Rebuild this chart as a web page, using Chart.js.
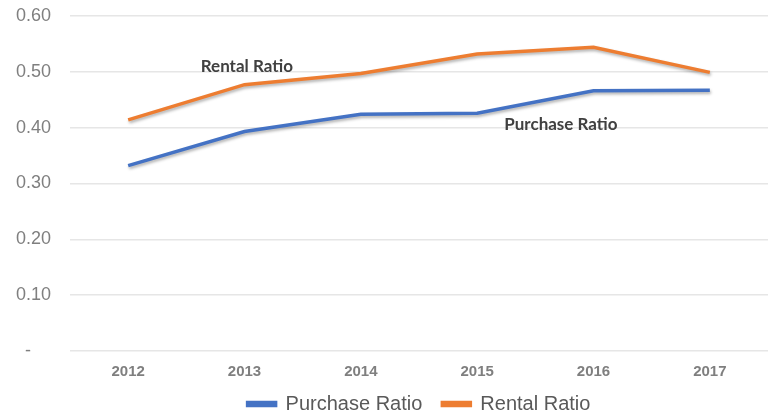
<!DOCTYPE html>
<html><head><meta charset="utf-8">
<script src="https://cdn.jsdelivr.net/npm/chart.js@4"></script>
<style>html,body{margin:0;padding:0;background:#fff}#wrap{width:768px;height:415px;position:relative}</style>
</head><body><div id="wrap"><canvas id="c" width="768" height="415"></canvas></div>
<script>
const years = ['2012','2013','2014','2015','2016','2017'];
const purchaseRatio = [0.332, 0.393, 0.424, 0.426, 0.466, 0.467];
const rentalRatio = [0.414, 0.477, 0.497, 0.532, 0.544, 0.499];
const yTicks = [0, 0.1, 0.2, 0.3, 0.4, 0.5, 0.6];
const annotations = [
  {text: 'Rental Ratio', x: 1.02, y: 0.51},
  {text: 'Purchase Ratio', x: 3.72, y: 0.405}
];

const shadowPlugin = {
  id: 'shadow',
  beforeDatasetDraw(chart) {
    const ctx = chart.ctx; ctx.save();
    ctx.shadowColor = 'rgba(0,0,0,0.3)'; ctx.shadowBlur = 3; ctx.shadowOffsetY = 2; ctx.shadowOffsetX = 1;
  },
  afterDatasetDraw(chart) { chart.ctx.restore(); }
};
const annoPlugin = {
  id: 'anno',
  afterDatasetsDraw(chart) {
    const ctx = chart.ctx, xs = chart.scales.x, ys = chart.scales.y;
    ctx.save();
    ctx.font = 'bold 17px Lato, "Open Sans", sans-serif';
    ctx.fillStyle = '#404040'; ctx.textAlign = 'center'; ctx.textBaseline = 'middle';
    annotations.forEach(a => ctx.fillText(a.text, xs.getPixelForValue(a.x), ys.getPixelForValue(a.y)));
    ctx.restore();
  }
};
const legendShift = {
  id: 'legendShift',
  afterLayout(chart) { const l = chart.legend; if (l) { l.top -= 7; l.bottom -= 7; } }
};

new Chart(document.getElementById('c'), {
  type: 'line',
  data: {
    labels: years,
    datasets: [
      {label: 'Purchase Ratio', data: purchaseRatio, borderColor: '#4472C4', backgroundColor: '#4472C4', borderWidth: 3.5, pointRadius: 0, tension: 0},
      {label: 'Rental Ratio', data: rentalRatio, borderColor: '#ED7D31', backgroundColor: '#ED7D31', borderWidth: 3.5, pointRadius: 0, tension: 0}
    ]
  },
  options: {
    responsive: false, animation: false,
    layout: {padding: {top: 16, right: 0, left: 0, bottom: -16}},
    plugins: {
      tooltip: {enabled: false},
      legend: {
        position: 'bottom', fullSize: false,
        labels: {boxWidth: 28, boxHeight: 3, padding: 20, color: '#595959', font: {family: 'Liberation Sans, Arial, sans-serif', size: 20}}
      }
    },
    scales: {
      x: {
        offset: true,
        afterFit(s) { s.height = 30; s.paddingLeft = 0; s.paddingRight = 0; s.paddingTop = 0; s.paddingBottom = 0; },
        grid: {display: false, drawTicks: false},
        border: {display: false},
        ticks: {color: '#7f7f7f', padding: 12, font: {family: 'Liberation Sans, Arial, sans-serif', size: 15, weight: 'bold'}}
      },
      y: {
        min: 0, max: 0.6,
        afterBuildTicks(s) { s.ticks = yTicks.map(v => ({value: v})); },
        afterFit(s) { s.width = 70; s.paddingTop = 0; s.paddingBottom = 0; },
        grid: {color: '#e6e6e6', lineWidth: 1.5, drawTicks: false},
        border: {display: false},
        ticks: {color: '#7f7f7f', padding: 19, font: {family: 'Liberation Sans, Arial, sans-serif', size: 18},
          callback: v => v === 0 ? '-    ' : v.toFixed(2)}
      }
    }
  },
  plugins: [shadowPlugin, annoPlugin, legendShift]
});
</script></body></html>
